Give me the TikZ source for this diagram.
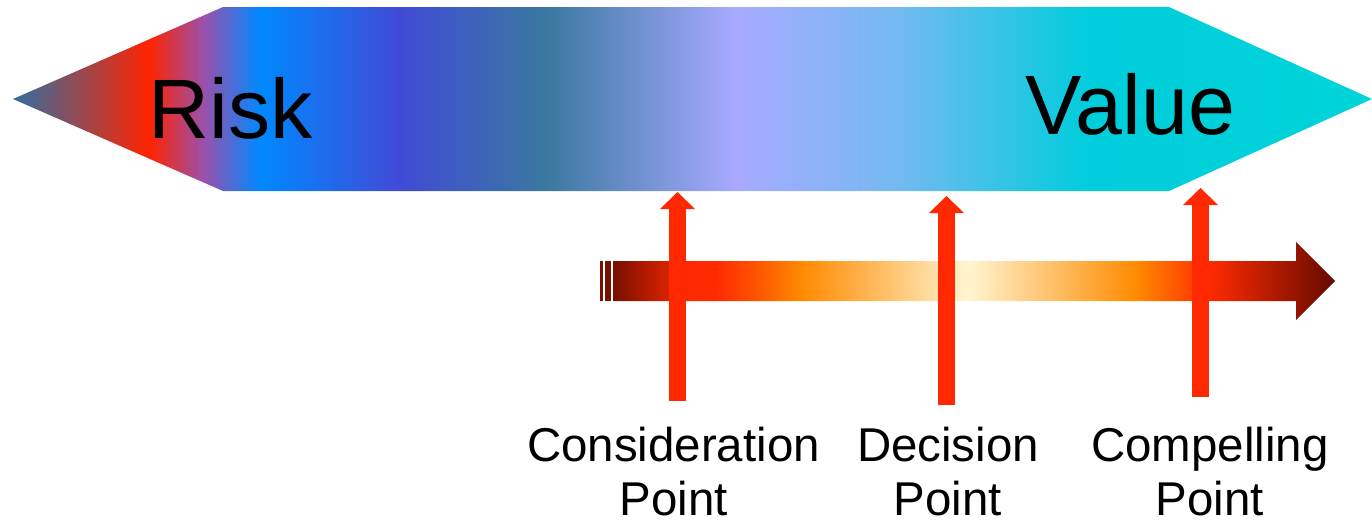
\documentclass[tikz,border=0pt]{standalone}
\usepackage{fontspec}
\setmainfont{Liberation Sans}
\usetikzlibrary{
  arrows.meta,
  calc
}
\definecolor{pointred}{RGB}{255,40,0}
\definecolor{tailred}{RGB}{120,18,0}
% colours of the risk/value band
\definecolor{rvtip}{RGB}{50,110,160}
\definecolor{rvred}{RGB}{255,35,0}
\definecolor{rvpurple}{RGB}{155,80,170}
\definecolor{rvblue}{RGB}{0,136,255}
\definecolor{rvindigo}{RGB}{65,75,215}
\definecolor{rvteal}{RGB}{58,120,160}
\definecolor{rvlav}{RGB}{168,170,255}
\definecolor{rvsky}{RGB}{115,185,240}
\definecolor{rvcyan}{RGB}{0,205,220}
\definecolor{rvend}{RGB}{0,212,216}
% colours of the time bar
\definecolor{tbdark}{RGB}{120,15,0}
\definecolor{tbred}{RGB}{255,42,0}
\definecolor{tbhot}{RGB}{255,88,0}
\definecolor{tborange}{RGB}{255,138,0}
\definecolor{tbcream}{RGB}{255,245,208}
\definecolor{tbdeep}{RGB}{150,20,0}
\definecolor{tbtip}{RGB}{100,10,0}

\pgfdeclarehorizontalshading{riskvalue}{100bp}{
  color(0bp)=(rvtip); color(25bp)=(rvtip); color(30bp)=(rvred);
  color(32bp)=(rvpurple); color(34.1bp)=(rvblue); color(39.2bp)=(rvindigo);
  color(44.6bp)=(rvteal); color(51.6bp)=(rvlav); color(57.6bp)=(rvsky);
  color(64.6bp)=(rvcyan); color(75bp)=(rvend); color(100bp)=(rvend)}
\pgfdeclarehorizontalshading{timebar}{100bp}{
  color(0bp)=(tbdark); color(25bp)=(tbdark); color(30.3bp)=(tbred);
  color(32.1bp)=(tbred); color(35.2bp)=(tbhot); color(38bp)=(tborange);
  color(49.6bp)=(tbcream); color(61.3bp)=(tborange); color(63.9bp)=(tbhot);
  color(66.3bp)=(tbred); color(72.3bp)=(tbdeep); color(75bp)=(tbtip);
  color(100bp)=(tbtip)}

\begin{document}
\begin{tikzpicture}[
  bigword/.style={font=\fontsize{24}{28}\selectfont, inner sep=0pt, anchor=base west},
  pointlabel/.style={font=\fontsize{13.5}{15.6}\selectfont, align=center,
                     inner sep=0pt, anchor=north},
  pointer/.style={draw=pointred, line width=1.7mm,
                  -{Triangle[width=3.5mm, length=1.7mm, line width=0pt]}},
  tailbar/.style={fill=tailred}
]
\useasboundingbox (0,0) rectangle (13.72,5.21);

% risk -> value band
\shade[shading=riskvalue] (0.13,4.22) -- (2.23,5.14) -- (11.69,5.14)
  -- (13.72,4.22) -- (11.69,3.30) -- (2.23,3.30) -- cycle;
\node[bigword] (risk) at (1.48,3.83) {Risk};
\node[bigword] (value) at (10.25,3.87) {Value};

% time bar
\shade[shading=timebar] (6.13,2.60) -- (12.96,2.60) -- (12.96,2.79)
  -- (13.35,2.40) -- (12.96,2.01) -- (12.96,2.20) -- (6.13,2.20) -- cycle;
\fill[tailbar] (6.00,2.20) rectangle (6.03,2.60);
\fill[tailbar] (6.05,2.20) rectangle (6.11,2.60);

% points
\node[pointlabel] (consider) at (6.735,0.95) {Consideration\\Point};
\node[pointlabel] (decide) at (9.48,0.95) {Decision\\Point};
\node[pointlabel] (compel) at (12.10,0.95) {Compelling\\Point};

\coordinate (c1) at (6.775,1.20);
\coordinate (t1) at (6.775,3.29);
\coordinate (c2) at (9.465,1.16);
\coordinate (t2) at (9.465,3.25);
\coordinate (c3) at (12.005,1.24);
\coordinate (t3) at (12.005,3.33);

\draw[pointer] (c1) -- (t1);
\draw[pointer] (c2) -- (t2);
\draw[pointer] (c3) -- (t3);

\end{tikzpicture}
\end{document}
